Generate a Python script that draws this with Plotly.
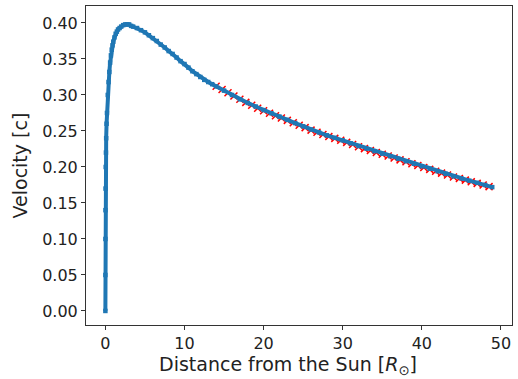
import plotly.graph_objects as go

# Blue series: velocity profile
dist_blue = [0.0, 0.0, 0.005, 0.01, 0.02, 0.04, 0.07, 0.1, 0.15, 0.2, 0.3, 0.4, 0.5, 0.6, 0.7, 0.8,
             0.9, 1.0, 1.15, 1.3, 1.45, 1.6, 1.8, 2.0, 2.25, 2.5, 2.75, 3.0, 3.25, 3.5, 4.0, 4.5,
             5.0, 5.5, 6.0, 6.5, 7.0, 7.5, 8.0, 8.5, 9.0, 9.5, 10.0, 10.5, 11.0, 11.5, 12.0, 12.5,
             13.0, 13.5, 14.0, 15.0, 16.0, 17.0, 18.0, 19.0, 20.0, 21.0, 22.0, 23.0, 24.0, 25.0,
             26.0, 27.0, 28.0, 29.0, 30.0, 31.0, 32.0, 33.0, 34.0, 35.0, 36.0, 37.0, 38.0, 39.0,
             40.0, 41.0, 42.0, 43.0, 44.0, 45.0, 46.0, 47.0, 48.0, 48.9]
vel_blue = [0.0, 0.05, 0.10, 0.14, 0.17, 0.20, 0.22, 0.24, 0.26, 0.275, 0.30, 0.318, 0.332, 0.345, 0.355, 0.363,
            0.369, 0.374, 0.380, 0.385, 0.388, 0.391, 0.393, 0.395, 0.397, 0.398, 0.398, 0.398, 0.396, 0.395, 0.393, 0.390,
            0.387, 0.383, 0.379, 0.375, 0.370, 0.366, 0.361, 0.357, 0.352, 0.347, 0.343, 0.338, 0.333, 0.329, 0.325, 0.321,
            0.318, 0.315, 0.312, 0.306, 0.300, 0.294, 0.289, 0.284, 0.279, 0.2745, 0.270, 0.2655, 0.261, 0.2565,
            0.252, 0.248, 0.244, 0.2405, 0.237, 0.233, 0.229, 0.2255, 0.222, 0.2185, 0.215, 0.2115, 0.208, 0.2045,
            0.201, 0.1975, 0.194, 0.1905, 0.187, 0.184, 0.181, 0.178, 0.175, 0.172]

# Red series: comparison points
dist_red = [14.0, 14.75, 15.5, 16.25, 17.0, 17.75, 18.5, 19.25, 20.0, 20.75, 21.5, 22.25, 23.0, 23.75, 24.5,
            25.25, 26.0, 26.75, 27.5, 28.25, 29.0, 29.75, 30.5, 31.25, 32.0, 32.75, 33.5, 34.25, 35.0, 35.75,
            36.5, 37.25, 38.0, 38.75, 39.5, 40.25, 41.0, 41.75, 42.5, 43.25, 44.0, 44.75, 45.5, 46.25, 47.0,
            47.75, 48.5]
vel_red = [0.3122, 0.3077, 0.3032, 0.2987, 0.2942, 0.2897, 0.2857, 0.2817, 0.2782, 0.2747, 0.2712, 0.2680, 0.2647, 0.2614, 0.2580,
           0.2547, 0.2512, 0.2482, 0.2452, 0.2422, 0.2397, 0.2372, 0.2342, 0.2312, 0.2282, 0.2255, 0.2229, 0.2202, 0.2177, 0.2152,
           0.2125, 0.2099, 0.2072, 0.2046, 0.2020, 0.1994, 0.1967, 0.1941, 0.1915, 0.1889, 0.1862, 0.1840, 0.1817, 0.1795, 0.1772,
           0.1750, 0.1727]

x_ticks = [0, 10, 20, 30, 40, 50]
y_ticks = [0.00, 0.05, 0.10, 0.15, 0.20, 0.25, 0.30, 0.35, 0.40]

fig = go.Figure()
fig.add_trace(go.Scatter(x=dist_red, y=vel_red, mode="markers",
                         marker=dict(symbol="x-thin", size=7, color="red",
                                     line=dict(color="red", width=1.5)),
                         showlegend=False))
fig.add_trace(go.Scatter(x=dist_blue, y=vel_blue, mode="lines+markers",
                         line=dict(color="#1f77b4", width=4),
                         marker=dict(symbol="square", size=4.5, color="#1f77b4"),
                         showlegend=False))

font_main = "DejaVu Sans"
axis_common = dict(showline=True, linecolor="#333333", linewidth=1, mirror=True,
                   ticks="outside", ticklen=4, tickcolor="#333333", showgrid=False,
                   zeroline=False, automargin=False,
                   tickfont=dict(family=font_main, size=16, color="#222222"))

fig.update_layout(
    width=518, height=379,
    margin=dict(l=86, r=6, t=6, b=54),
    paper_bgcolor="white", plot_bgcolor="white",
    xaxis=dict(range=[-2.45, 51.4], tickvals=x_ticks, **axis_common),
    yaxis=dict(range=[-0.0195, 0.4236], tickvals=y_ticks, tickformat=".2f", **axis_common),
    annotations=[
        dict(text="Distance from the Sun [<i>R</i><sub>⊙</sub>]", xref="paper", yref="paper",
             x=0.475, y=-0.128, xanchor="center", yanchor="middle", showarrow=False,
             font=dict(family=font_main, size=19, color="#222222")),
        dict(text="Velocity [c]", xref="paper", yref="paper", x=-0.155, y=0.5,
             xanchor="center", yanchor="middle", textangle=-90, showarrow=False,
             font=dict(family=font_main, size=19, color="#222222")),
    ],
)

fig.write_html("out.html", config={"displayModeBar": False},
               post_script="document.body.style.margin='0';document.body.style.overflow='hidden';")
